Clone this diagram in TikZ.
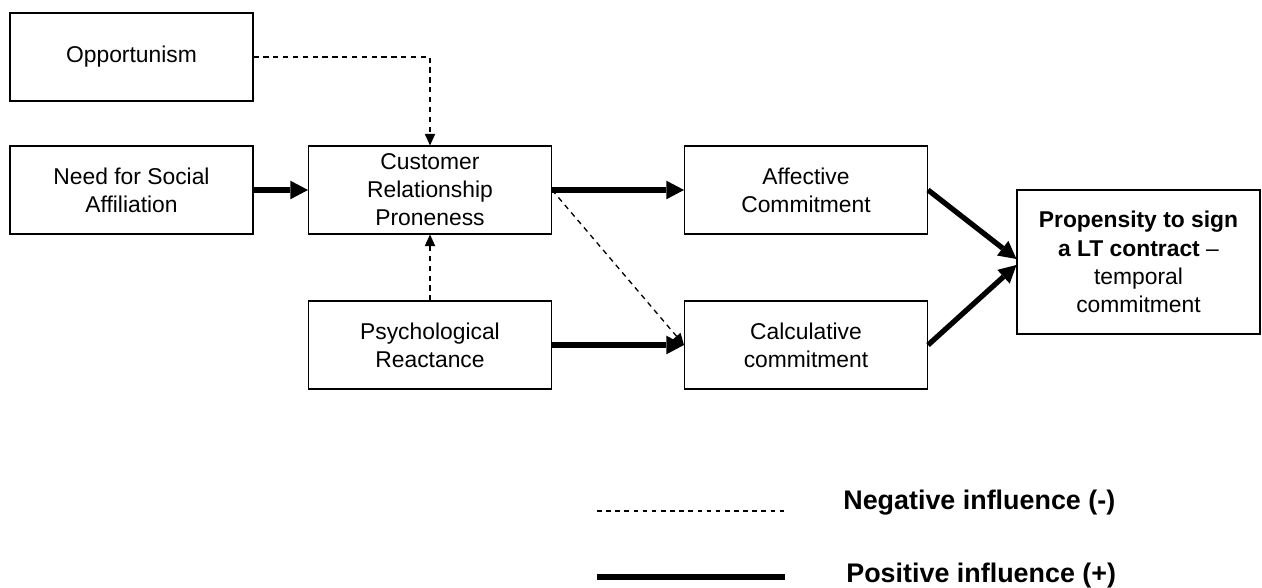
\documentclass[tikz,border=0pt]{standalone}
\usepackage{fontspec}
\setmainfont{Liberation Sans}
\usetikzlibrary{arrows.meta}
\begin{document}
\begin{tikzpicture}[
        box/.style={draw, line width=0.6pt, minimum width=4.86cm, minimum height=1.76cm, align=center, inner sep=0pt, font=\fontsize{13}{16}\selectfont},
        posarrow/.style={line width=3pt, -{Triangle[length=0.35cm,width=0.37cm,line width=0pt]}},
        negarrow/.style={line width=0.75pt, dash pattern=on 3pt off 2.6pt, -{Triangle[length=0.23cm,width=0.21cm,line width=0pt]}},
        legendtxt/.style={anchor=west, inner sep=0pt, font=\fontsize{15.3}{18}\selectfont\bfseries}
    ]
        \useasboundingbox (0,0) rectangle (25.24,11.76);
        \node[box] (opp) at (2.63,10.62) {Opportunism};
        \node[box] (need) at (2.63,7.96) {Need for Social\\Affiliation};
        \node[box] (crp) at (8.6,7.96) {Customer\\Relationship\\Proneness};
        \node[box] (psy) at (8.6,4.86) {Psychological\\Reactance};
        \node[box] (aff) at (16.12,7.96) {Affective\\Commitment};
        \node[box] (calc) at (16.12,4.86) {Calculative\\commitment};
        \node[box, minimum height=2.88cm] (prop) at (22.77,6.52) {\textbf{Propensity to sign}\\\textbf{a LT contract} --\\temporal\\commitment};
        \draw[negarrow] (opp.east) -| (crp.north);
        \draw[posarrow] (need) -- (crp);
        \draw[negarrow] (psy) -- (crp);
        \draw[posarrow] (crp) -- (aff);
        \draw[negarrow] (crp.east) -- (calc.west);
        \draw[posarrow] (psy) -- (calc);
        \draw[posarrow] (aff.east) -- ([yshift=0.06cm]prop.west);
        \draw[posarrow] (calc.east) -- ([yshift=-0.06cm]prop.west);
        % legend
        \coordinate (negA) at (11.94,1.54);
        \coordinate (negB) at (15.7,1.54);
        \coordinate (posA) at (11.94,0.22);
        \coordinate (posB) at (15.7,0.22);
        \draw[line width=0.7pt, dash pattern=on 2.6pt off 2.6pt] (negA) -- (negB);
        \draw[line width=3.4pt] (posA) -- (posB);
        \node[legendtxt] (negtxt) at (16.86,1.7) {Negative influence (-)};
        \node[legendtxt] (postxt) at (16.92,0.24) {Positive influence (+)};
    \end{tikzpicture}
\end{document}
